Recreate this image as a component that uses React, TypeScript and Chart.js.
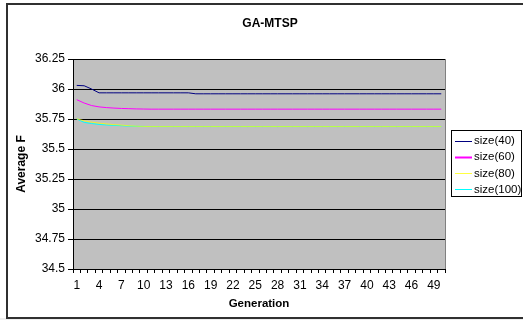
import React, { useEffect, useRef } from "react";
import { Chart, registerables } from "chart.js";

Chart.register(...registerables);

const chartTitle = "GA-MTSP";
const xTitle = "Generation";
const yTitle = "Average F";

const generations = [
  "1", "2", "3", "4", "5", "6", "7", "8", "9", "10",
  "11", "12", "13", "14", "15", "16", "17", "18", "19", "20",
  "21", "22", "23", "24", "25", "26", "27", "28", "29", "30",
  "31", "32", "33", "34", "35", "36", "37", "38", "39", "40",
  "41", "42", "43", "44", "45", "46", "47", "48", "49", "50",
];

const seriesNames = ["size(40)", "size(60)", "size(80)", "size(100)"];
const seriesColors = ["#000080", "#FF00FF", "rgba(255,255,0,0.75)", "#00FFFF"];

const size40 = [
  36.03, 36.027, 36.0, 35.968, 35.968, 35.968, 35.968, 35.968, 35.968, 35.968,
  35.968, 35.968, 35.968, 35.968, 35.968, 35.968, 35.96, 35.96, 35.96, 35.96,
  35.96, 35.96, 35.96, 35.96, 35.96, 35.96, 35.96, 35.96, 35.96, 35.96,
  35.96, 35.96, 35.96, 35.96, 35.96, 35.96, 35.96, 35.96, 35.96, 35.96,
  35.96, 35.96, 35.96, 35.96, 35.96, 35.96, 35.96, 35.96, 35.96, 35.96,
];

const size60 = [
  35.911, 35.883, 35.862, 35.851, 35.845, 35.841, 35.838, 35.836, 35.834, 35.833,
  35.832, 35.832, 35.832, 35.832, 35.832, 35.832, 35.832, 35.832, 35.832, 35.832,
  35.832, 35.832, 35.832, 35.832, 35.832, 35.832, 35.832, 35.832, 35.832, 35.832,
  35.832, 35.832, 35.832, 35.832, 35.832, 35.832, 35.832, 35.832, 35.832, 35.832,
  35.832, 35.832, 35.832, 35.832, 35.832, 35.832, 35.832, 35.832, 35.832, 35.832,
];

const size80 = [
  35.752, 35.735, 35.724, 35.716, 35.709, 35.703, 35.699, 35.694, 35.69, 35.688,
  35.687, 35.687, 35.687, 35.687, 35.687, 35.687, 35.687, 35.687, 35.687, 35.687,
  35.687, 35.687, 35.687, 35.687, 35.687, 35.687, 35.687, 35.687, 35.687, 35.687,
  35.687, 35.687, 35.687, 35.687, 35.687, 35.687, 35.687, 35.687, 35.687, 35.687,
  35.687, 35.687, 35.687, 35.687, 35.687, 35.687, 35.687, 35.687, 35.687, 35.687,
];

const size100 = [
  35.75, 35.722, 35.712, 35.705, 35.7, 35.697, 35.694, 35.691, 35.689, 35.688,
  35.687, 35.687, 35.687, 35.687, 35.687, 35.687, 35.687, 35.687, 35.687, 35.687,
  35.687, 35.687, 35.687, 35.687, 35.687, 35.687, 35.687, 35.687, 35.687, 35.687,
  35.687, 35.687, 35.687, 35.687, 35.687, 35.687, 35.687, 35.687, 35.687, 35.687,
  35.687, 35.687, 35.687, 35.687, 35.687, 35.687, 35.687, 35.687, 35.687, 35.687,
];

const yMin = 34.5;
const yMax = 36.25;
const yStep = 0.25;

const FONT = "'Liberation Sans', Arial, sans-serif";

const decorPlugin = {
  id: "decor",
  beforeDraw(chart: any) {
    const { ctx, chartArea } = chart;
    ctx.save();
    ctx.fillStyle = "#FFFFFF";
    ctx.fillRect(0, 0, chart.width, chart.height);
    ctx.fillStyle = "#EEEEEE";
    ctx.fillRect(0, 318, chart.width, 2);
    ctx.strokeStyle = "#303030";
    ctx.lineWidth = 2;
    ctx.strokeRect(7, 4, 600, 314);
    ctx.fillStyle = "#C0C0C0";
    ctx.fillRect(chartArea.left, chartArea.top, chartArea.right - chartArea.left, chartArea.bottom - chartArea.top);
    ctx.restore();
  },
  afterDraw(chart: any) {
    const { ctx, chartArea } = chart;
    ctx.save();
    ctx.strokeStyle = "#808080";
    ctx.lineWidth = 1;
    ctx.beginPath();
    ctx.moveTo(Math.round(chartArea.right) + 0.5, chartArea.top);
    ctx.lineTo(Math.round(chartArea.right) + 0.5, chartArea.bottom);
    ctx.stroke();

    ctx.fillStyle = "#000";
    ctx.font = `bold 12px ${FONT}`;
    ctx.textAlign = "center";
    ctx.textBaseline = "middle";
    ctx.fillText(chartTitle, 270, 24);

    const bx = 451.5, by = 130.5, bw = 70, bh = 66;
    ctx.fillStyle = "#FFFFFF";
    ctx.fillRect(bx, by, bw, bh);
    ctx.strokeStyle = "#000";
    ctx.lineWidth = 1;
    ctx.strokeRect(bx, by, bw, bh);
    ctx.font = `11.5px ${FONT}`;
    ctx.textAlign = "left";
    chart.data.datasets.forEach((ds: any, i: number) => {
      const y = 140.5 + i * 16.3;
      ctx.strokeStyle = ds.borderColor;
      ctx.lineWidth = i === 1 ? 2 : 1;
      ctx.beginPath();
      ctx.moveTo(455, Math.round(y) + 0.5);
      ctx.lineTo(472, Math.round(y) + 0.5);
      ctx.stroke();
      ctx.fillStyle = "#000";
      ctx.fillText(ds.label, 474, y + 0.5);
    });
    ctx.restore();
  },
};

export default function App() {
  const ref = useRef<HTMLCanvasElement | null>(null);

  useEffect(() => {
    if (!ref.current) return;
    Chart.defaults.font.family = FONT;
    const seriesValues = [size40, size60, size80, size100];
    const chart = new Chart(ref.current, {
      type: "line",
      data: {
        labels: generations,
        datasets: seriesValues.map((vals, i) => ({
          label: seriesNames[i],
          data: vals,
          borderColor: seriesColors[i],
          backgroundColor: seriesColors[i],
          borderWidth: 1,
          pointRadius: 0,
          tension: 0,
          fill: false,
        })),
      },
      options: {
        responsive: false,
        animation: false,
        devicePixelRatio: 1,
        layout: { padding: { left: 7, top: 59, right: 78, bottom: 0 } },
        plugins: {
          legend: { display: false },
          title: { display: false },
          tooltip: { enabled: false },
        },
        scales: {
          x: {
            type: "category",
            offset: true,
            grid: {
              offset: true,
              drawOnChartArea: false,
              drawTicks: true,
              tickLength: 4,
              color: "#000",
            },
            border: { display: true, color: "#000" },
            ticks: {
              autoSkip: false,
              maxRotation: 0,
              minRotation: 0,
              padding: 5,
              color: "#000",
              font: { size: 12, family: FONT },
              callback: (_v: any, i: number) => (i % 3 === 0 ? generations[i] : ""),
            },
            title: {
              display: true,
              text: xTitle,
              color: "#000",
              font: { size: 11.5, weight: "bold", family: FONT },
              padding: { top: 0, bottom: 9 },
            },
            afterFit: (s: any) => {
              s.height = 51;
            },
          },
          y: {
            min: yMin,
            max: yMax,
            grid: { color: "#000", tickLength: 5, drawTicks: true },
            border: { display: true, color: "#000" },
            ticks: {
              stepSize: yStep,
              padding: 3,
              color: "#000",
              font: { size: 12, family: FONT },
              callback: (v: any) => String(Number(v)),
            },
            title: {
              display: true,
              text: yTitle,
              color: "#000",
              font: { size: 12, weight: "bold", family: FONT },
              padding: { top: 7, bottom: 0 },
            },
            afterFit: (s: any) => {
              s.width = 66;
            },
          },
        },
      } as any,
      plugins: [decorPlugin],
    });
    return () => chart.destroy();
  }, []);

  return (
    <div style={{ position: "fixed", left: 0, top: 0, width: 523, height: 320 }}>
      <canvas ref={ref} width={523} height={320} style={{ width: 523, height: 320, display: "block" }} />
    </div>
  );
}
